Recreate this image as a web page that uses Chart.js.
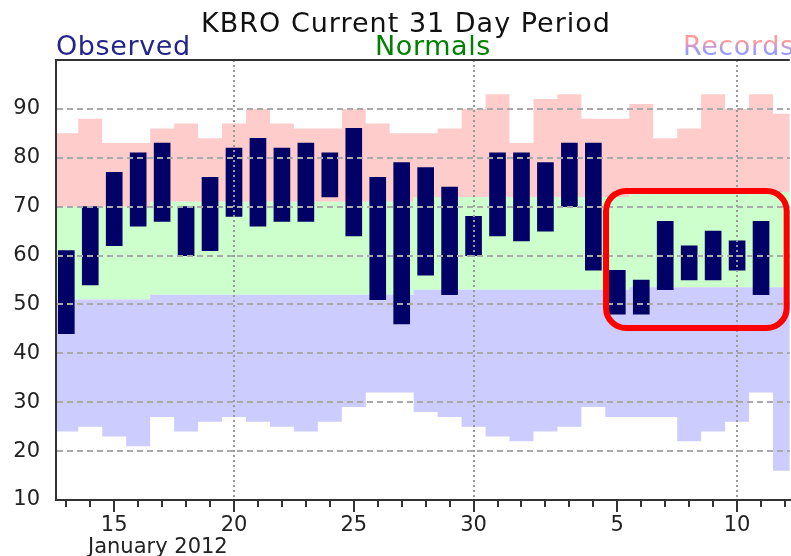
<!DOCTYPE html>
<html>
<head>
<meta charset="utf-8">
<title>KBRO Current 31 Day Period</title>
<script src="https://cdn.jsdelivr.net/npm/chart.js@4.4.1/dist/chart.umd.min.js"></script>
<style>
  html, body { margin: 0; padding: 0; background: #fff; }
  canvas { display: block; }
</style>
</head>
<body>
<canvas id="chart" width="791" height="556"></canvas>
<script>
// Day numbers: 13..31 = December 2011, 32..43 = January 1..12 2012
const days = [13, 14, 15, 16, 17, 18, 19, 20, 21, 22, 23, 24, 25, 26, 27, 28, 29, 30, 31,
              32, 33, 34, 35, 36, 37, 38, 39, 40, 41, 42, 43];

// Records and normals (one value per day)
const recordHigh = [85, 88, 83, 83, 86, 87, 84, 87, 90, 87, 86, 86, 90, 87, 85, 85, 86, 90, 93,
                    83, 92, 93, 88, 88, 91, 84, 86, 93, 90, 93, 89];
const normalHigh = [70, 70, 70, 70, 71, 71, 71, 71, 71, 71, 71, 71, 71, 71, 71, 72, 72, 72, 72,
                    72, 72, 72, 72, 72, 73, 73, 73, 73, 73, 73, 73];
const normalLow  = [51, 51, 51, 51, 52, 52, 52, 52, 52, 52, 52, 52, 52, 52, 52, 53, 53, 53, 53,
                    53, 53, 53, 53, 53, 53.5, 53.5, 53.5, 53.5, 53.5, 53.5, 53.5];
const recordLow  = [24, 25, 23, 21, 27, 24, 26, 27, 26, 25, 24, 26, 29, 32, 32, 28, 27, 25, 23,
                    22, 24, 25, 29, 27, 27, 27, 22, 24, 26, 32, 16];

// Observed (Dec 13 .. Jan 11)
const obsHigh = [61, 70, 77, 81, 83, 70, 76, 82, 84, 82, 83, 81, 86, 76, 79, 78, 74, 68, 81,
                 81, 79, 83, 83, 57, 55, 67, 62, 65, 63, 67];
const obsLow  = [44, 54, 62, 66, 67, 60, 61, 68, 66, 67, 67, 72, 64, 51, 46, 56, 52, 60, 64,
                 63, 65, 70, 57, 48, 48, 53, 55, 55, 57, 52];

// Axis labels
const tickDays = [15, 20, 25, 30, 36, 41];
const tickLabels = ['15', '20', '25', '30', '5', '10'];
const gridDays = [20, 30, 41];

// Highlight box: [day from, day to, top temp, bottom temp]
const highlight = [35.53, 43.07, 73.2, 45.2];

// stepped line points: each value covers its whole day
function stepPoints(vals) {
    const pts = vals.map((v, i) => ({ x: days[i] - 0.5, y: v }));
    pts.push({ x: days[vals.length - 1] + 0.5, y: vals[vals.length - 1] });
    return pts;
}

function bandDataset(vals, fill, color) {
    return {
        type: 'line',
        data: stepPoints(vals),
        stepped: true,
        fill: fill,
        backgroundColor: color,
        borderColor: 'transparent',
        borderWidth: 0,
        pointRadius: 0,
        order: 1
    };
}

const FONT = '"DejaVu Sans", Verdana, sans-serif';

const decorations = {
    id: 'decorations',
    afterDraw(chart) {
        const { ctx, chartArea, scales } = chart;
        ctx.save();
        ctx.setLineDash([]);

        // top border
        ctx.strokeStyle = '#333';
        ctx.lineWidth = 2;
        ctx.beginPath();
        ctx.moveTo(chartArea.left - 1, chartArea.top);
        ctx.lineTo(chartArea.right, chartArea.top);
        ctx.stroke();

        // longer ticks at labelled days
        tickDays.forEach(d => {
            const x = Math.round(scales.x.getPixelForValue(d));
            ctx.beginPath();
            ctx.moveTo(x, chartArea.bottom);
            ctx.lineTo(x, chartArea.bottom + 12);
            ctx.stroke();
        });

        // highlight box
        const x0 = scales.x.getPixelForValue(highlight[0]);
        const x1 = scales.x.getPixelForValue(highlight[1]);
        const y0 = scales.y.getPixelForValue(highlight[2]);
        const y1 = scales.y.getPixelForValue(highlight[3]);
        ctx.strokeStyle = '#ff0000';
        ctx.lineWidth = 6;
        ctx.beginPath();
        ctx.roundRect(x0, y0, x1 - x0, y1 - y0, 20);
        ctx.stroke();

        // title + legend texts
        ctx.letterSpacing = '1px';
        ctx.textBaseline = 'alphabetic';
        ctx.font = '27px ' + FONT;
        ctx.textAlign = 'center';
        ctx.fillStyle = '#111';
        ctx.fillText('KBRO Current 31 Day Period', 406, 32);

        ctx.letterSpacing = '0.6px';
        ctx.textAlign = 'left';
        ctx.fillStyle = '#24248a';
        ctx.fillText('Observed', 56, 55);
        ctx.fillStyle = '#008000';
        ctx.fillText('Normals', 375, 55);
        const grad = ctx.createLinearGradient(0, 36, 0, 56);
        grad.addColorStop(0.25, '#ff9a9a');
        grad.addColorStop(0.75, '#9a9aff');
        ctx.fillStyle = grad;
        ctx.fillText('Records', 683, 55);

        // month label
        ctx.letterSpacing = '0px';
        ctx.font = '21px ' + FONT;
        ctx.fillStyle = '#222';
        ctx.fillText('January 2012', 88, 553);

        ctx.restore();
    }
};

new Chart(document.getElementById('chart'), {
    type: 'bar',
    data: {
        datasets: [
            bandDataset(recordLow, false, 'transparent'),
            bandDataset(normalLow, '-1', '#ccccff'),
            bandDataset(normalHigh, '-1', '#ccffcc'),
            bandDataset(recordHigh, '-1', '#ffcccc'),
            {
                type: 'bar',
                data: obsHigh.map((h, i) => ({ x: days[i], y: [obsLow[i], h] })),
                backgroundColor: '#000066',
                borderWidth: 0,
                borderSkipped: false,
                barThickness: 16,
                order: 0
            }
        ]
    },
    options: {
        responsive: false,
        devicePixelRatio: 1,
        animation: false,
        events: [],
        layout: { padding: { top: 60, left: 0, right: 0, bottom: 0 } },
        plugins: {
            legend: { display: false },
            title: { display: false },
            tooltip: { enabled: false }
        },
        scales: {
            x: {
                type: 'linear',
                min: 12.57,
                max: 43.2,
                offset: false,
                afterFit: s => { s.height = 56; },
                ticks: {
                    stepSize: 1,
                    includeBounds: false,
                    autoSkip: false,
                    maxRotation: 0,
                    padding: 6,
                    color: '#222',
                    font: { family: FONT, size: 21 },
                    callback: v => {
                        const k = tickDays.indexOf(v);
                        return k >= 0 ? tickLabels[k] : '';
                    }
                },
                grid: {
                    z: 1,
                    offset: false,
                    lineWidth: 2,
                    color: c => gridDays.includes(c.tick && c.tick.value) ? '#999' : 'transparent',
                    tickColor: '#333',
                    tickWidth: 2,
                    tickLength: 7
                },
                border: { display: true, z: 2, color: '#333', width: 2, dash: [2, 3] }
            },
            y: {
                min: 10,
                max: 100,
                afterFit: s => { s.width = 56; },
                ticks: {
                    stepSize: 10,
                    padding: 16,
                    color: '#222',
                    font: { family: FONT, size: 21 },
                    callback: v => (v === 100 ? '' : v)
                },
                grid: {
                    z: 1,
                    lineWidth: 2,
                    drawTicks: false,
                    color: c => (c.tick && (c.tick.value === 10 || c.tick.value === 100)) ? 'transparent' : '#aaa'
                },
                border: { display: true, z: 2, color: '#333', width: 2, dash: [6, 4] }
            }
        }
    },
    plugins: [decorations]
});
</script>
</body>
</html>
